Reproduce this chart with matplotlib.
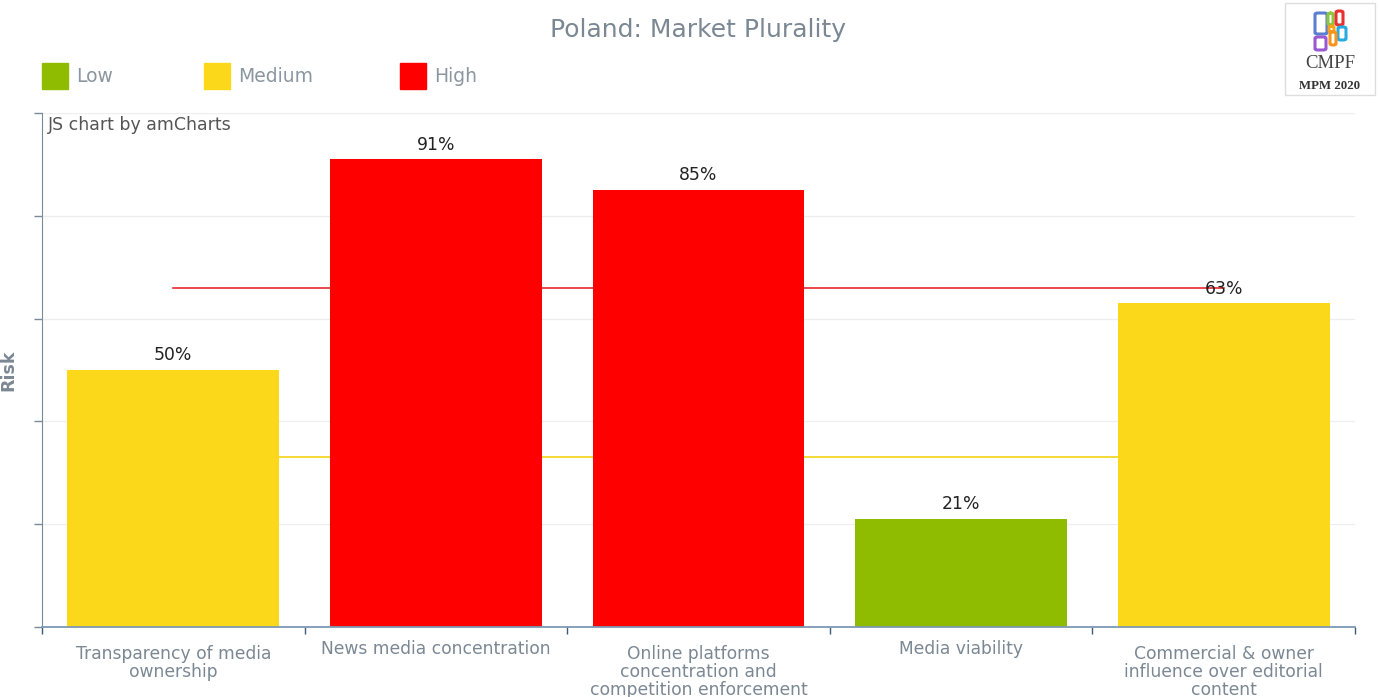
import numpy as np
import matplotlib
matplotlib.use('Agg')
import matplotlib.pyplot as plt
from matplotlib.patches import Rectangle, FancyBboxPatch

# data
categories = ['Transparency of media\nownership', 'News media concentration',
              'Online platforms\nconcentration and\ncompetition enforcement',
              'Media viability', 'Commercial & owner\ninfluence over editorial\ncontent']
risk = [50, 91, 85, 21, 63]
levels = ['Medium', 'High', 'High', 'Low', 'Medium']
level_names = ['Low', 'Medium', 'High']
level_colors = {'Low': '#8fbb00', 'Medium': '#fbd81a', 'High': '#ff0000'}
high_threshold = 66
medium_threshold = 33

W, H = 1379, 697
fig = plt.figure(figsize=(W / 100, H / 100), dpi=100)
ax = fig.add_axes([42 / W, 1 - 627 / H, (1355 - 42) / W, (627 - 113) / H])

x = np.arange(len(categories))
ax.plot([x[0], x[-1]], [high_threshold] * 2, color='#e8141a', lw=1.1, zorder=1)
ax.plot([x[0], x[-1]], [medium_threshold] * 2, color='#f2d000', lw=1.1, zorder=1)
bars = ax.bar(x, risk, width=0.807, color=[level_colors[l] for l in levels], zorder=2)
for xi, v in zip(x, risk):
    ax.text(xi, v + 1.1, f'{v}%', ha='center', va='bottom', fontsize=12.4, color='#222222', zorder=4)

ax.set_xlim(-0.5, len(categories) - 0.5)
ax.set_ylim(0, 100)
ax.set_yticks(np.arange(0, 101, 20))
ax.set_yticklabels([])
ax.grid(axis='y', color='#eeeeee', lw=0.9, zorder=0)
ax.set_axisbelow(True)
ax.set_xticks(np.arange(-0.5, len(categories), 1.0))
ax.set_xticklabels([])
ax.set_xticks(x, minor=True)
ax.set_xticklabels(categories, minor=True, fontsize=12.3, color='#7b8894', linespacing=1.0)
for lab in ax.get_xticklabels(minor=True):
    if '\n' not in lab.get_text():
        lab.set_y(5 / 514)  # single-line labels sit a bit higher
ax.tick_params(axis='x', which='major', length=5, color='#3d5a78', width=1)
ax.tick_params(axis='x', which='minor', length=0, pad=13)
ax.tick_params(axis='y', length=6, color='#7a8a99', width=1)
for s in ['top', 'right']:
    ax.spines[s].set_visible(False)
ax.spines['left'].set_color('#7a8a99')
ax.spines['bottom'].set_color('#7b99b3')
ax.spines['bottom'].set_linewidth(1.3)
ax.set_ylabel('Risk', fontsize=12.5, fontweight='bold', color='#7b8894')
ax.yaxis.set_label_coords(-25 / 1313, 0.5)

ax.text(6 / 1313, 0.995, 'JS chart by amCharts', transform=ax.transAxes, ha='left', va='top',
        fontsize=12.5, color='#555555')

fig.text(698 / W, 1 - 30 / H, 'Poland: Market Plurality', ha='center', va='center',
         fontsize=18, color='#7b8894')

# legend
leg_x = [42, 204, 400]
for lx, name in zip(leg_x, level_names):
    fig.patches.append(Rectangle((lx / W, 1 - 89 / H), 26 / W, 26 / H, transform=fig.transFigure,
                                 color=level_colors[name]))
    fig.text((lx + 34) / W, 1 - 76 / H, name, ha='left', va='center', fontsize=13.5, color='#8a96a0')

# logo
fig.patches.append(Rectangle((1285 / W, 1 - 95 / H), 90 / W, 92 / H, transform=fig.transFigure,
                             facecolor='white', edgecolor='#dddddd', lw=1))
logo_blocks = [(1315, 13, 12, 21, '#5b7fd0'), (1328, 13, 5, 12, '#8cc63f'), (1336, 11, 7, 14, '#e8302f'),
               (1329, 26, 5, 6, '#f3a21b'), (1338, 27, 8, 13, '#29abe2'), (1315, 37, 11, 13, '#9b59d0'),
               (1330, 32, 6, 13, '#f7941d')]
for bx, by, bw, bh, c in logo_blocks:
    fig.patches.append(FancyBboxPatch((bx / W, 1 - (by + bh) / H), bw / W, bh / H,
                                      boxstyle='round,pad=0,rounding_size=0.002', transform=fig.transFigure,
                                      facecolor='none', edgecolor=c, lw=2.2))
fig.text(1330 / W, 1 - 64 / H, 'CMPF', ha='center', va='center', fontsize=13.5,
         family='Liberation Serif', color='#444444')
fig.text(1330 / W, 1 - 86 / H, 'MPM 2020', ha='center', va='center', fontsize=9.3,
         family='Liberation Serif', fontweight='bold', color='#333333')

fig.savefig('out.png', dpi=100)
